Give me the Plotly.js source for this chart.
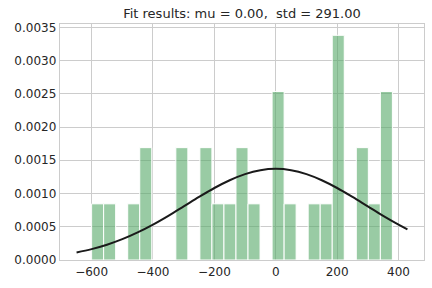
<!DOCTYPE html>
<html>
<head>
<meta charset="utf-8">
<script src="https://cdn.plot.ly/plotly-3.0.1.min.js"></script>
<style>html,body{margin:0;padding:0;background:#fff;}#chart{width:432px;height:288px;}</style>
</head>
<body>
<div id="chart"></div>
<script>
// Histogram bins (centers) and density heights
const binCenters = [-580.4, -541.2, -502.0, -462.8, -423.6, -384.4, -345.2, -306.0, -266.8, -227.6,
                    -188.4, -149.2, -110.0, -70.8, -31.6, 7.6, 46.8, 86.0, 125.2, 164.4,
                    203.6, 242.8, 282.0, 321.2, 360.4];
const density = [0.000845, 0.000845, 0, 0.000845, 0.00169, 0, 0, 0.00169, 0, 0.00169,
                 0.000845, 0.000845, 0.00169, 0.000845, 0, 0.002535, 0.000845, 0, 0.000845, 0.000845,
                 0.00338, 0, 0.00169, 0.000845, 0.002535];
// Fitted normal curve points
const curveX = [-649, -600, -550, -500, -450, -400, -350, -300, -250, -200, -150, -100, -50,
                0, 50, 100, 150, 200, 250, 300, 350, 400, 429];
const curveY = [0.000114, 0.000164, 0.000230, 0.000313, 0.000415, 0.000533, 0.000665, 0.000806,
                0.000948, 0.001083, 0.001200, 0.001292, 0.001351, 0.001371, 0.001351, 0.001292,
                0.001200, 0.001083, 0.000948, 0.000806, 0.000665, 0.000533, 0.000462];
const xTicks = [-600, -400, -200, 0, 200, 400];
const yTicks = [0, 0.0005, 0.001, 0.0015, 0.002, 0.0025, 0.003, 0.0035];
const titleText = "Fit results: mu = 0.00,  std = 291.00";

const binWidth = 39.2;
const traces = [
  {
    type: 'bar',
    x: binCenters,
    y: density,
    width: binWidth,
    marker: {color: 'rgba(85,168,104,0.6)', line: {color: '#ffffff', width: 1}},
    hoverinfo: 'skip'
  },
  {
    type: 'scatter',
    mode: 'lines',
    x: curveX,
    y: curveY,
    line: {color: '#1a1a1a', width: 2, shape: 'spline'},
    hoverinfo: 'skip'
  }
];
const axisCommon = {
  showgrid: true, gridcolor: '#cccccc', gridwidth: 1,
  showline: true, linecolor: '#cccccc', linewidth: 1.25, mirror: true,
  zeroline: false, ticks: '',
  tickfont: {family: 'DejaVu Sans', size: 12, color: '#262626'}
};
const layout = {
  width: 432, height: 288,
  margin: {l: 60, r: 8, t: 24, b: 28},
  paper_bgcolor: '#ffffff', plot_bgcolor: '#ffffff',
  showlegend: false,
  bargap: 0,
  title: {text: titleText, font: {family: 'DejaVu Sans', size: 13, color: '#262626'},
          x: 0.5, xref: 'paper', y: 1, yref: 'paper', yanchor: 'bottom', pad: {b: 6}},
  xaxis: Object.assign({}, axisCommon, {range: [-703, 483], tickvals: xTicks,
          ticktext: xTicks.map(v => v < 0 ? '\u2212' + Math.abs(v) : String(v))}),
  yaxis: Object.assign({}, axisCommon, {range: [0, 0.00355], tickvals: yTicks, tickformat: '.4f'})
};
Plotly.newPlot('chart', traces, layout, {displayModeBar: false, staticPlot: true});
</script>
</body>
</html>
